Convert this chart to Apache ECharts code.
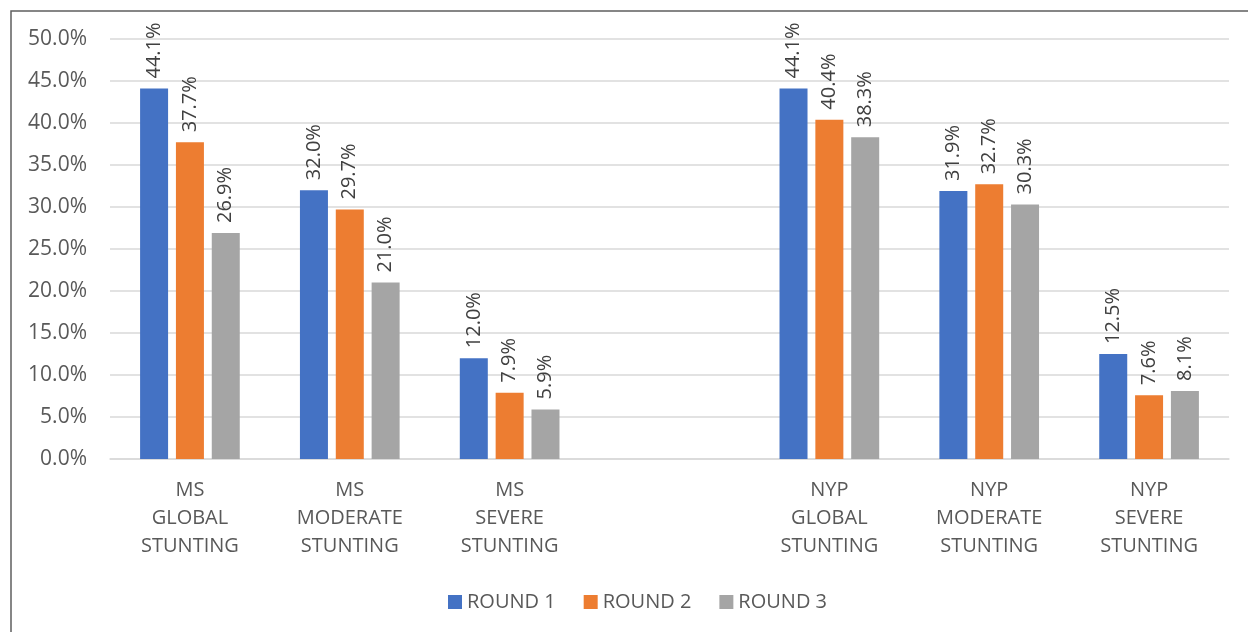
<!DOCTYPE html>
<html>
<head>
<meta charset="utf-8">
<script src="https://cdn.jsdelivr.net/npm/echarts@6/dist/echarts.min.js"></script>
<style>
  html, body { margin: 0; padding: 0; background: #fff; }
  #chart { width: 1248px; height: 632px; }
</style>
</head>
<body>
<div id="chart"></div>
<script>
const categories = [
  'MS\nGLOBAL\nSTUNTING', 'MS\nMODERATE\nSTUNTING', 'MS\nSEVERE\nSTUNTING',
  '',
  'NYP\nGLOBAL\nSTUNTING', 'NYP\nMODERATE\nSTUNTING', 'NYP\nSEVERE\nSTUNTING'
];
const round1 = [44.1, 32.0, 12.0, '-', 44.1, 31.9, 12.5];
const round2 = [37.7, 29.7, 7.9, '-', 40.4, 32.7, 7.6];
const round3 = [26.9, 21.0, 5.9, '-', 38.3, 30.3, 8.1];
const seriesNames = ['ROUND 1', 'ROUND 2', 'ROUND 3'];
const colors = ['#4472C4', '#ED7D31', '#A5A5A5'];

const font = '"Open Sans", "Noto Sans", sans-serif';
const textColor = '#595959';

const chart = echarts.init(document.getElementById('chart'));

const makeSeries = (name, data, i) => ({
  name,
  type: 'bar',
  data,
  barWidth: 28,
  barGap: '28%',
  itemStyle: { color: colors[i] },
  label: {
    show: true,
    position: 'top',
    rotate: 90,
    align: 'left',
    verticalAlign: 'middle',
    distance: 10,
    fontFamily: font,
    fontSize: 20,
    color: '#404040',
    formatter: (p) => Number(p.value).toFixed(1) + '%'
  }
});

chart.setOption({
  animation: false,
  color: colors,
  textStyle: { fontFamily: font },
  graphic: [{
    type: 'rect',
    shape: { x: 11, y: 11, width: 1300, height: 700 },
    style: { fill: 'none', stroke: '#5f5f5f', lineWidth: 1.5 },
    silent: true
  }],
  grid: { left: 110, right: 19, top: 39, bottom: 173 },
  legend: {
    data: seriesNames,
    left: 443,
    top: 587,
    icon: 'rect',
    itemWidth: 14,
    itemHeight: 14,
    itemGap: 28,
    textStyle: { fontFamily: font, fontSize: 20, color: textColor }
  },
  xAxis: {
    type: 'category',
    data: categories,
    axisLine: { lineStyle: { color: '#D9D9D9', width: 1.5 } },
    axisTick: { show: false },
    axisLabel: {
      interval: 0,
      margin: 17,
      fontFamily: font,
      fontSize: 20,
      lineHeight: 28,
      color: textColor
    }
  },
  yAxis: {
    type: 'value',
    min: 0,
    max: 50,
    interval: 5,
    axisLine: { show: false },
    axisTick: { show: false },
    splitLine: { lineStyle: { color: '#D9D9D9', width: 1.5 } },
    axisLabel: {
      margin: 23,
      fontFamily: font,
      fontSize: 21,
      color: textColor,
      formatter: (v) => v.toFixed(1) + '%'
    }
  },
  series: [
    makeSeries(seriesNames[0], round1, 0),
    makeSeries(seriesNames[1], round2, 1),
    makeSeries(seriesNames[2], round3, 2)
  ]
});

window.addEventListener('resize', () => chart.resize());
</script>
</body>
</html>
